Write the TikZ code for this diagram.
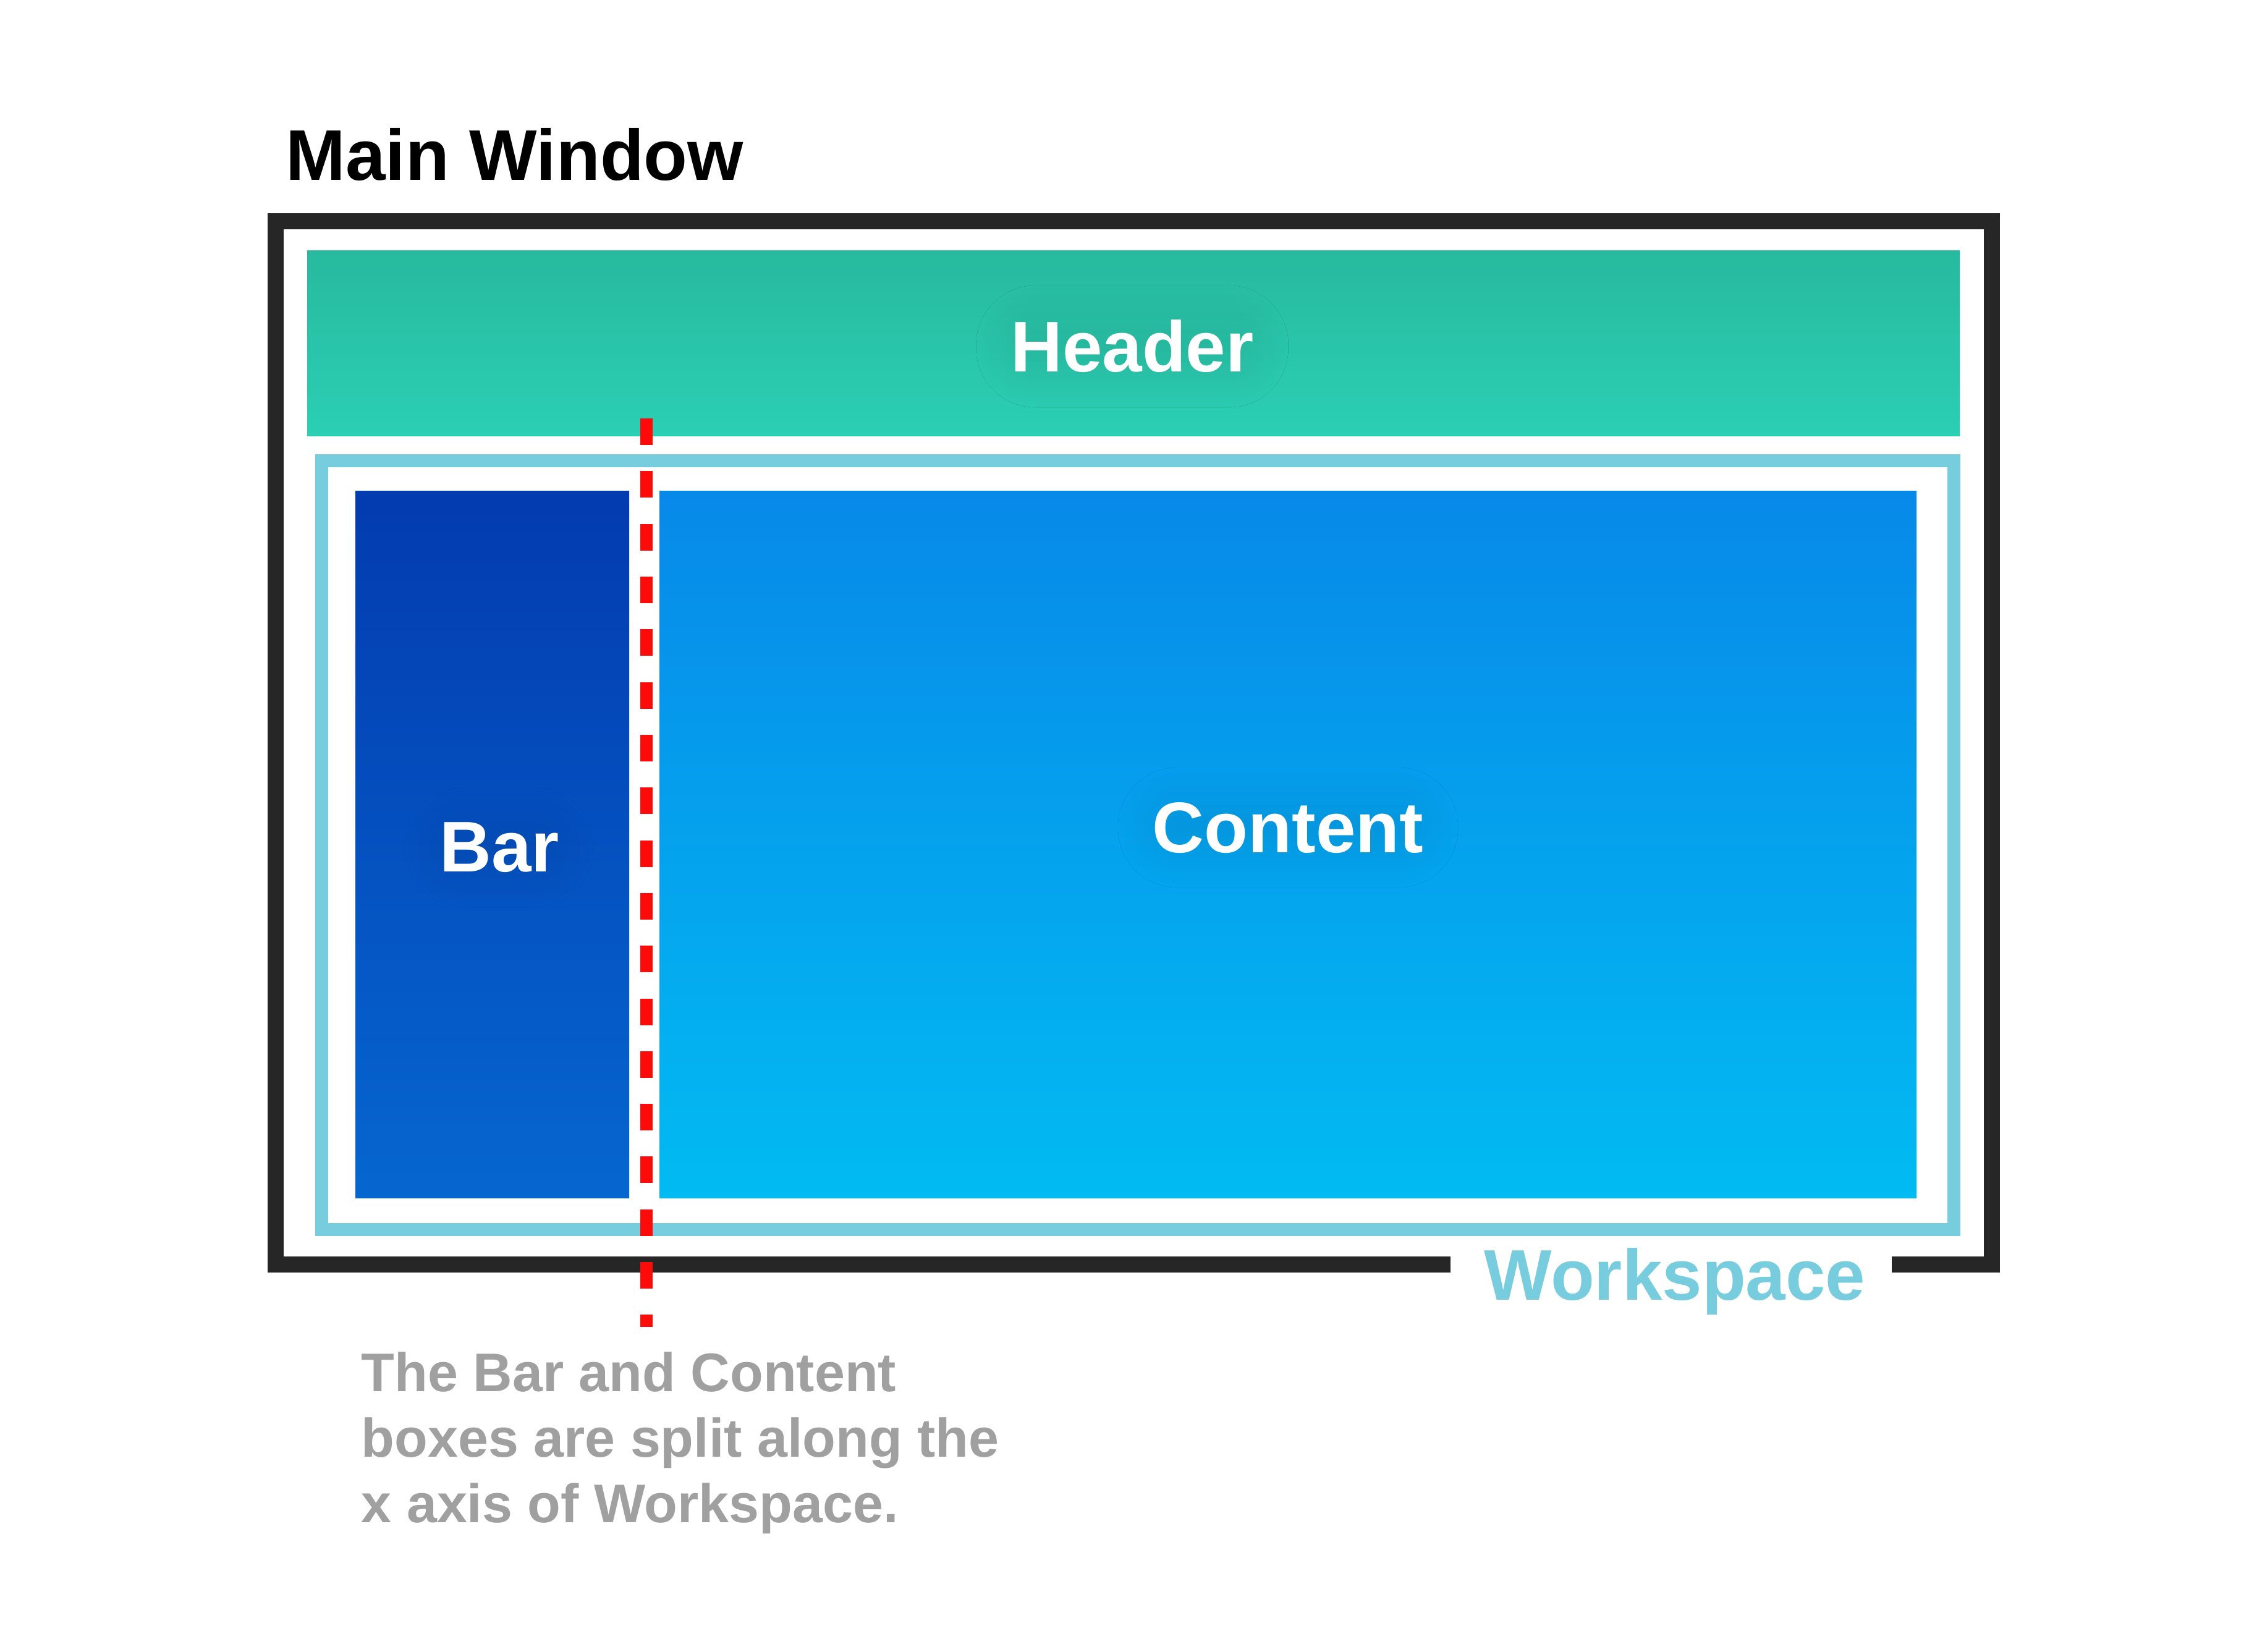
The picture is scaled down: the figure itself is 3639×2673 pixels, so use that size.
\documentclass[tikz,border=0pt]{standalone}
\usepackage{fontspec}
\setmainfont{Liberation Sans}
\usetikzlibrary{shadows.blur}

\definecolor{framedark}{RGB}{38,38,38}
\definecolor{headtop}{RGB}{39,186,159}
\definecolor{headbot}{RGB}{43,207,180}
\definecolor{bartop}{RGB}{3,59,176}
\definecolor{barbot}{RGB}{6,102,208}
\definecolor{conttop}{RGB}{7,137,233}
\definecolor{contbot}{RGB}{2,187,242}
\definecolor{wscyan}{RGB}{119,204,221}
\definecolor{splitred}{RGB}{255,10,10}
\definecolor{notegray}{RGB}{160,160,160}

\begin{document}
\begin{tikzpicture}[x=0.25pt, y=-0.25pt, line join=miter,
  bigfont/.style={font=\bfseries\fontsize{29}{34}\selectfont},
  boxlabel/.style={bigfont, text=white, inner sep=0pt, anchor=base},
  halo/.style={rounded corners=10pt,
      blur shadow={shadow xshift=0pt, shadow yshift=0pt,
      shadow blur radius=14pt, shadow opacity=7, shadow blur steps=28},
      inner xsep=0pt, inner ysep=0pt}
]
% page
\path[use as bounding box, fill=white] (0,0) rectangle (3639,2673);

% title
\node[bigfont, anchor=base west, inner sep=0pt] (title) at (462,292) {Main Window};

% window frame, left open at the bottom right for the Workspace label
\coordinate (fgapL) at (2347,2046);
\coordinate (fgapR) at (3061,2046);
\draw[framedark, line width=6.5pt]
  (fgapL) -- (446,2046) -- (446,358) -- (3223,358) -- (3223,2046) -- (fgapR);

% header band
\shade[top color=headtop, bottom color=headbot] (497,406) rectangle (3171,706);
\node[boxlabel, halo] (header) at (1832,602) {Header};

% workspace outline
\draw[wscyan, line width=5.25pt] (520.5,745.5) rectangle (3161.5,1989.5);
\node[bigfont, text=wscyan, inner sep=0pt, anchor=base] (workspace) at (2710,2103) {Workspace};

% bar and content panes
\shade[top color=bartop, bottom color=barbot] (575,795) rectangle (1018,1938);
\node[boxlabel, halo] (bar) at (808,1410) {Bar};

\shade[top color=conttop, bottom color=contbot] (1067,795) rectangle (3101,1938);
\node[boxlabel, halo] (content) at (2084,1379) {Content};

% split line between the panes
\coordinate (splitTop) at (1046,677);
\coordinate (splitBot) at (1046,2147);
\draw[splitred, line width=4.9pt, dash pattern=on 10.75pt off 10.58pt] (splitTop) -- (splitBot);

% note (anchored on the baseline of its last line)
\node[font=\bfseries\fontsize{22}{26.4}\selectfont, text=notegray, align=left,
      anchor=base west, inner sep=0pt] (note) at (584,2463)
  {The Bar and Content\\boxes are split along the\\x axis of Workspace.};
\end{tikzpicture}
\end{document}
